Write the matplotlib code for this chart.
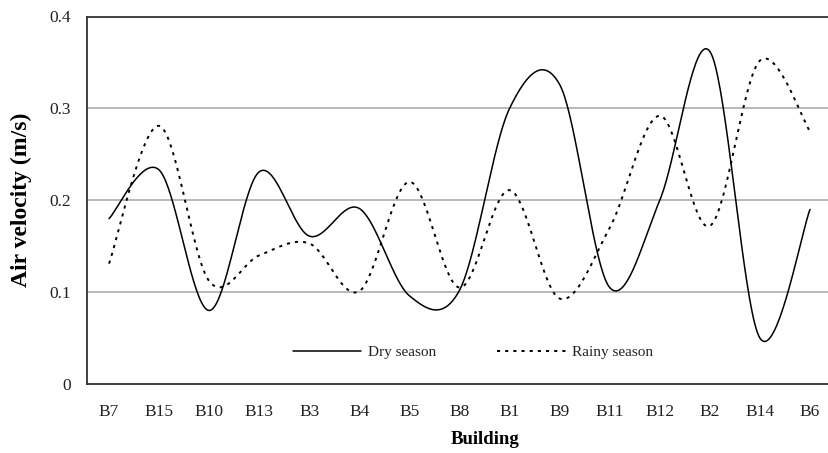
import numpy as np
import matplotlib
matplotlib.use("Agg")
import matplotlib.pyplot as plt

buildings = ["B7", "B15", "B10", "B13", "B3", "B4", "B5", "B8", "B1", "B9",
             "B11", "B12", "B2", "B14", "B6"]
dry = [0.180, 0.233, 0.080, 0.231, 0.161, 0.191, 0.096, 0.102, 0.300, 0.326,
       0.105, 0.200, 0.362, 0.050, 0.190]
rainy = [0.131, 0.281, 0.112, 0.140, 0.153, 0.101, 0.220, 0.105, 0.211, 0.093,
         0.170, 0.292, 0.172, 0.352, 0.275]
yticks = [0, 0.1, 0.2, 0.3, 0.4]
ytick_labels = ["0", "0.1", "0.2", "0.3", "0.4"]


def smooth(xs, ys, n=40):
    """Excel-like smoothed line: Catmull-Rom style cubic Bezier segments."""
    xs = np.asarray(xs, float)
    ys = np.asarray(ys, float)
    P = np.column_stack([xs, ys])
    m = len(P)
    out = []
    t = np.linspace(0, 1, n)
    for i in range(m - 1):
        p0 = P[i - 1] if i > 0 else P[i]
        p1 = P[i]
        p2 = P[i + 1]
        p3 = P[i + 2] if i + 2 < m else P[i + 1]
        c1 = p1 + (p2 - p0) / 6.0
        c2 = p2 - (p3 - p1) / 6.0
        seg = ((1 - t) ** 3)[:, None] * p1 + (3 * (1 - t) ** 2 * t)[:, None] * c1 \
            + (3 * (1 - t) * t ** 2)[:, None] * c2 + (t ** 3)[:, None] * p2
        out.append(seg if i == 0 else seg[1:])
    arr = np.vstack(out)
    return arr[:, 0], arr[:, 1]


plt.rcParams['font.family'] = ['Liberation Serif', 'DejaVu Serif']

fig = plt.figure(figsize=(8.29, 4.53), dpi=100)
ax = fig.add_axes([87 / 829, 69 / 453, (829 - 87) / 829, (384 - 16.5) / 453])

x = np.arange(len(buildings))
xd, yd = smooth(x, dry)
xr, yr = smooth(x, rainy)

ax.plot(xd, yd, color="black", lw=1.1, solid_capstyle="round", label="Dry season", zorder=3)
ax.plot(xr, yr, color="black", lw=1.4, linestyle=(0, (1.6, 2.6)), label="Rainy season", zorder=3)

ax.set_xlim(-0.44, 14.38)
ax.set_ylim(0, 0.4)
ax.set_xticks(x)
ax.set_xticklabels(buildings, fontsize=12.5, color="#222222")
ax.set_yticks(yticks)
ax.set_yticklabels(ytick_labels, fontsize=12.5, color="#222222")
ax.tick_params(axis="both", length=0)
ax.tick_params(axis="y", pad=11.5)
ax.tick_params(axis="x", pad=14.5)

for yv in [0.1, 0.2, 0.3]:
    ax.axhline(yv, color="#a6a6a6", lw=1.1, zorder=1)

for s in ["left", "bottom", "top"]:
    ax.spines[s].set_color("#333333")
    ax.spines[s].set_linewidth(1.3)
ax.spines["right"].set_visible(False)

ax.set_xlabel("Building", fontsize=13.5, fontweight="bold", va="center")
ax.xaxis.set_label_coords((485 - 87) / 742, (384 - 440) / 367.5)
ax.set_ylabel("Air velocity (m/s)", fontsize=17, fontweight="bold", va="center")
ax.yaxis.set_label_coords((21 - 87) / 742, 0.5)

leg = ax.legend(loc="center", bbox_to_anchor=(0.52, 0.087), ncol=2, frameon=False,
                fontsize=11, handlelength=4.5, columnspacing=4.0, handletextpad=0.4)
for t in leg.get_texts():
    t.set_color("#222222")

fig.savefig("out.png", dpi=100)
